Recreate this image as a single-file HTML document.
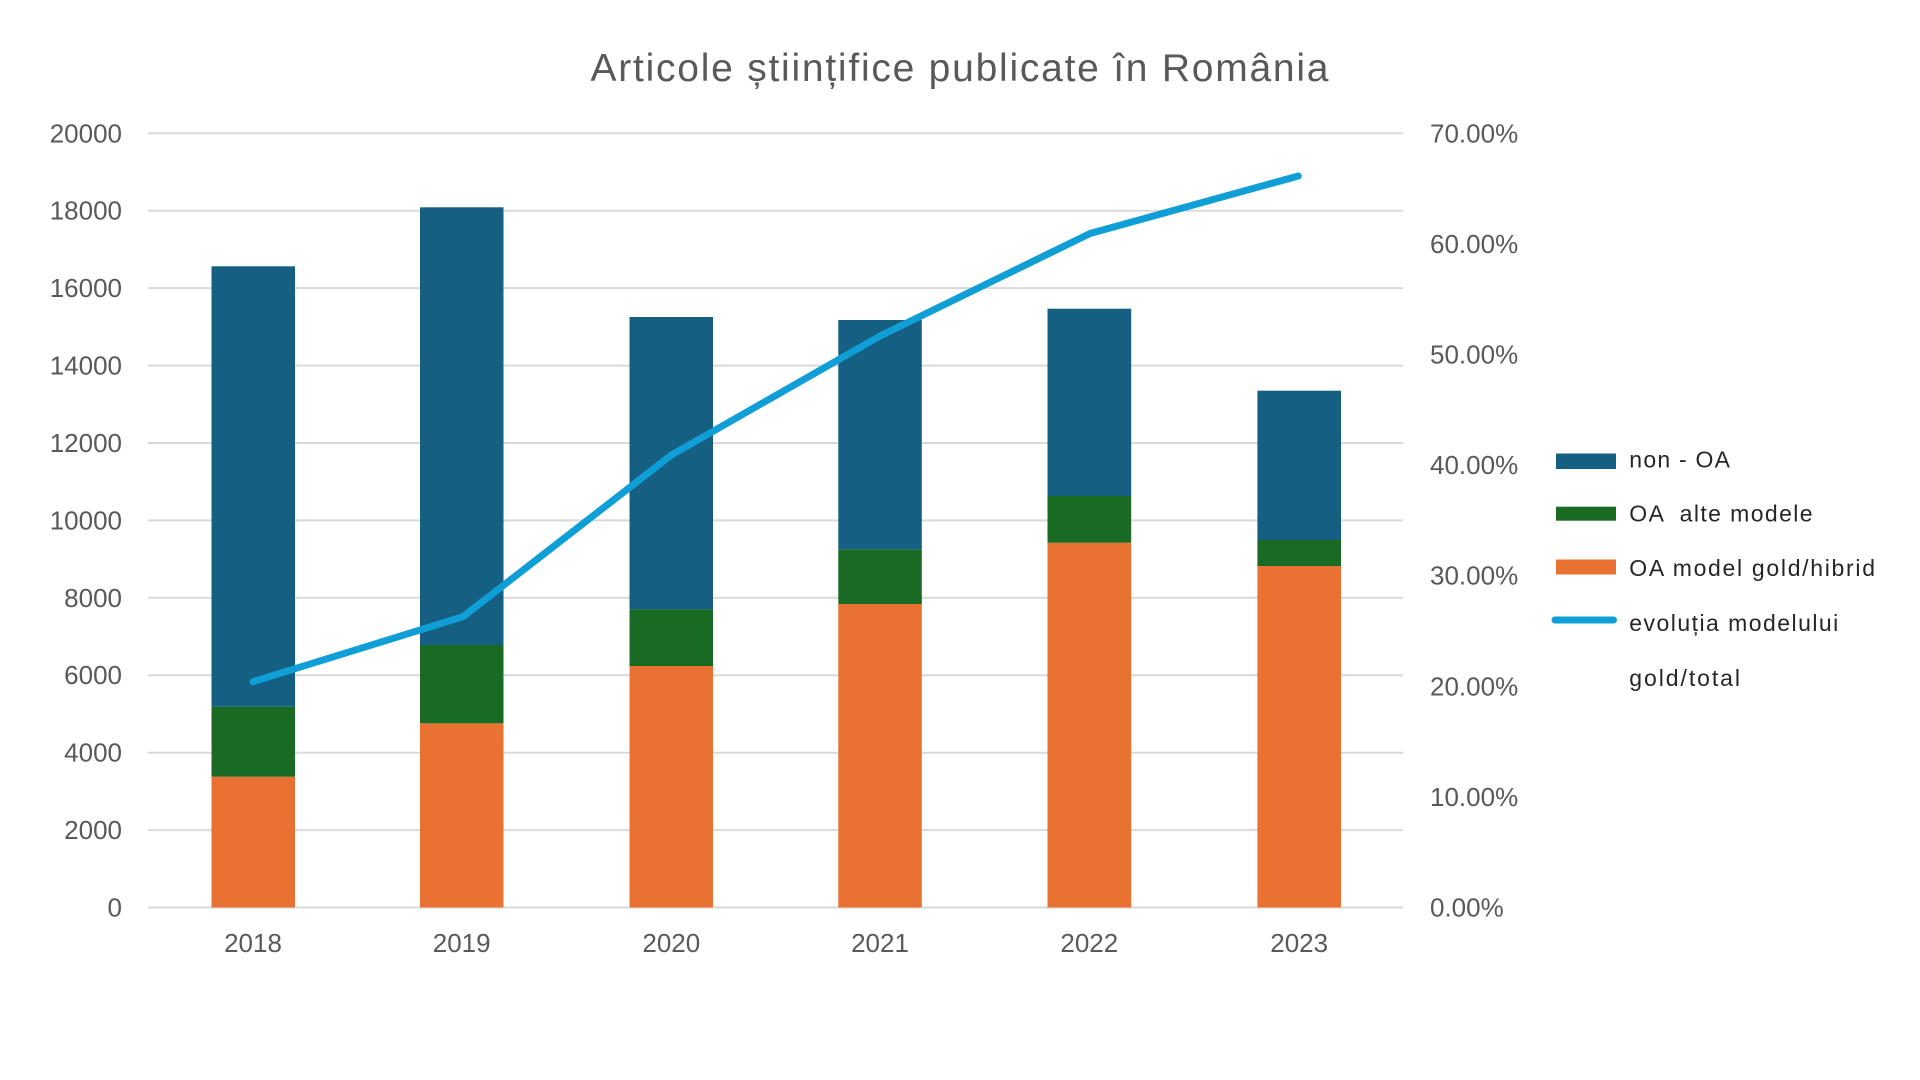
<!DOCTYPE html>
<html>
<head>
<meta charset="utf-8">
<style>
  html, body { margin:0; padding:0; background:#ffffff; }
  svg { display:block; }
  text { font-family: "Liberation Sans", "DejaVu Sans", sans-serif; }
</style>
</head>
<body>
<svg width="1920" height="1080" viewBox="0 0 1920 1080" xmlns="http://www.w3.org/2000/svg">
  <rect x="0" y="0" width="1920" height="1080" fill="#ffffff"/>

  <!-- Title -->
  <text x="590.5" y="81" font-size="39" fill="#595959" textLength="738" lengthAdjust="spacing">Articole științifice publicate în România</text>

  <!-- Gridlines -->
  <g stroke="#d9d9d9" stroke-width="2">
    <line x1="148" y1="133.3" x2="1403" y2="133.3"/>
    <line x1="148" y1="210.7" x2="1403" y2="210.7"/>
    <line x1="148" y1="288.1" x2="1403" y2="288.1"/>
    <line x1="148" y1="365.6" x2="1403" y2="365.6"/>
    <line x1="148" y1="443.0" x2="1403" y2="443.0"/>
    <line x1="148" y1="520.4" x2="1403" y2="520.4"/>
    <line x1="148" y1="597.8" x2="1403" y2="597.8"/>
    <line x1="148" y1="675.2" x2="1403" y2="675.2"/>
    <line x1="148" y1="752.7" x2="1403" y2="752.7"/>
    <line x1="148" y1="830.1" x2="1403" y2="830.1"/>
    <line x1="148" y1="907.5" x2="1403" y2="907.5"/>
  </g>

  <!-- Left axis labels -->
  <g font-size="26" fill="#595959" text-anchor="end">
    <text x="122" y="142.3">20000</text>
    <text x="122" y="219.7">18000</text>
    <text x="122" y="297.1">16000</text>
    <text x="122" y="374.6">14000</text>
    <text x="122" y="452.0">12000</text>
    <text x="122" y="529.4">10000</text>
    <text x="122" y="606.8">8000</text>
    <text x="122" y="684.2">6000</text>
    <text x="122" y="761.7">4000</text>
    <text x="122" y="839.1">2000</text>
    <text x="122" y="916.5">0</text>
  </g>

  <!-- Right axis labels -->
  <g font-size="26" fill="#595959">
    <text x="1430" y="142.3">70.00%</text>
    <text x="1430" y="252.9">60.00%</text>
    <text x="1430" y="363.5">50.00%</text>
    <text x="1430" y="474.1">40.00%</text>
    <text x="1430" y="584.7">30.00%</text>
    <text x="1430" y="695.3">20.00%</text>
    <text x="1430" y="805.9">10.00%</text>
    <text x="1430" y="916.5">0.00%</text>
  </g>

  <!-- Bars: orange (gold/hibrid), green (alte modele), blue (non-OA) -->
  <!-- 2018 -->
  <rect x="211.5" y="776.7" width="83.5" height="130.8" fill="#E97132"/>
  <rect x="211.5" y="706.7" width="83.5" height="70" fill="#196B24"/>
  <rect x="211.5" y="266.3" width="83.5" height="440.4" fill="#156082"/>
  <!-- 2019 -->
  <rect x="420" y="723.3" width="83.5" height="184.2" fill="#E97132"/>
  <rect x="420" y="645" width="83.5" height="78.3" fill="#196B24"/>
  <rect x="420" y="207.3" width="83.5" height="437.7" fill="#156082"/>
  <!-- 2020 -->
  <rect x="629.5" y="666" width="83.5" height="241.5" fill="#E97132"/>
  <rect x="629.5" y="609.3" width="83.5" height="56.7" fill="#196B24"/>
  <rect x="629.5" y="317" width="83.5" height="292.3" fill="#156082"/>
  <!-- 2021 -->
  <rect x="838.3" y="604" width="83.5" height="303.5" fill="#E97132"/>
  <rect x="838.3" y="549.3" width="83.5" height="54.7" fill="#196B24"/>
  <rect x="838.3" y="320" width="83.5" height="229.3" fill="#156082"/>
  <!-- 2022 -->
  <rect x="1047.5" y="542.7" width="83.7" height="364.8" fill="#E97132"/>
  <rect x="1047.5" y="496" width="83.7" height="46.7" fill="#196B24"/>
  <rect x="1047.5" y="308.7" width="83.7" height="187.3" fill="#156082"/>
  <!-- 2023 -->
  <rect x="1257.4" y="566" width="83.6" height="341.5" fill="#E97132"/>
  <rect x="1257.4" y="540" width="83.6" height="26" fill="#196B24"/>
  <rect x="1257.4" y="390.7" width="83.6" height="149.3" fill="#156082"/>

  <!-- Line series -->
  <polyline points="253,681.7 463,616.7 671.5,455 880,336 1090,233.5 1298.3,176"
            fill="none" stroke="#0F9ED5" stroke-width="7" stroke-linejoin="round" stroke-linecap="round"/>

  <!-- X axis labels -->
  <g font-size="26" fill="#595959" text-anchor="middle">
    <text x="253" y="952">2018</text>
    <text x="461.7" y="952">2019</text>
    <text x="671.3" y="952">2020</text>
    <text x="880" y="952">2021</text>
    <text x="1089.3" y="952">2022</text>
    <text x="1299.2" y="952">2023</text>
  </g>

  <!-- Legend -->
  <rect x="1556" y="453.5" width="60" height="15.5" fill="#156082"/>
  <rect x="1556" y="506.7" width="60" height="14" fill="#196B24"/>
  <rect x="1556" y="559.5" width="60" height="15" fill="#E97132"/>
  <line x1="1555" y1="620" x2="1613.5" y2="620" stroke="#0F9ED5" stroke-width="7" stroke-linecap="round"/>

  <g font-size="23" fill="#262626">
    <text x="1629.3" y="467.5" textLength="100.7" lengthAdjust="spacing">non - OA</text>
    <text x="1629.3" y="521.5" textLength="183.3" lengthAdjust="spacing" xml:space="preserve">OA  alte modele</text>
    <text x="1629.3" y="576" textLength="245.7" lengthAdjust="spacing">OA model gold/hibrid</text>
    <text x="1629.3" y="631" textLength="209" lengthAdjust="spacing">evoluția modelului</text>
    <text x="1629.3" y="686" textLength="110.7" lengthAdjust="spacing">gold/total</text>
  </g>
</svg>
</body>
</html>
